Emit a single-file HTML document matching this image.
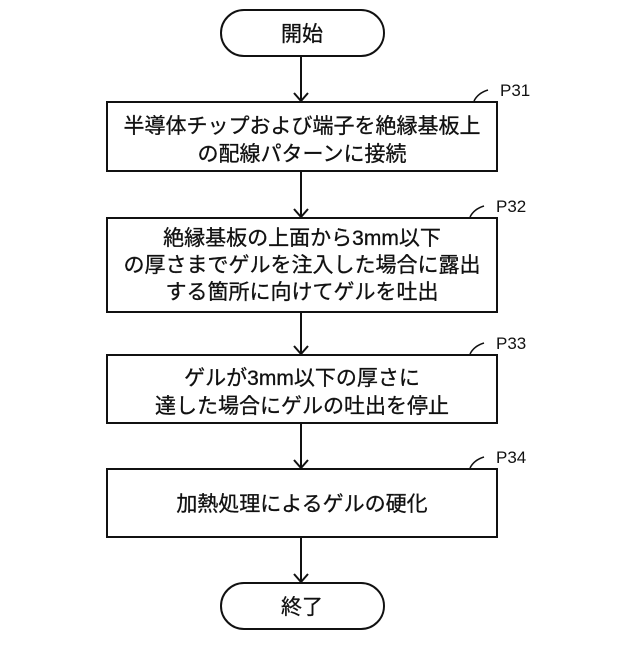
<!DOCTYPE html>
<html><head><meta charset="utf-8"><style>
body{margin:0;background:#fff}
svg text{font-family:"Liberation Sans","Noto Sans CJK JP",sans-serif;fill:#111}
</style></head><body>
<svg width="640" height="640" viewBox="0 0 640 640" xmlns="http://www.w3.org/2000/svg">
<g fill="none" stroke="#111" stroke-width="2">
<rect x="221" y="10" width="163" height="46" rx="23"/>
<rect x="107" y="102" width="390" height="69"/>
<rect x="107" y="218" width="390" height="94"/>
<rect x="107" y="355" width="390" height="68"/>
<rect x="107" y="469" width="390" height="68"/>
<rect x="221" y="583" width="163" height="46" rx="23"/>
<path d="M301 56V101M294 93L301 101L308 93"/>
<path d="M301 171V217M294 209L301 217L308 209"/>
<path d="M301 312V354M294 346L301 354L308 346"/>
<path d="M301 423V468M294 460L301 468L308 460"/>
<path d="M301 537V582M294 574L301 582L308 574"/>
<g stroke-width="1.5">
<path d="M474 101Q478 93 488 90"/>
<path d="M470 217Q474 209 484 206"/>
<path d="M470 354Q474 346 484 343"/>
<path d="M470 468Q474 460 484 457"/>
</g>
</g>
<g font-size="17">
<text x="500" y="96">P31</text>
<text x="496" y="212">P32</text>
<text x="496" y="349">P33</text>
<text x="496" y="463">P34</text>
</g>
<g font-size="21" text-anchor="middle" stroke="#111" stroke-width="0.3">
<text x="302" y="41">開始</text>
<text x="302" y="133">半導体チップおよび端子を絶縁基板上</text>
<text x="302" y="161">の配線パターンに接続</text>
<text x="302" y="245">絶縁基板の上面から3mm以下</text>
<text x="302" y="272">の厚さまでゲルを注入した場合に露出</text>
<text x="302" y="299">する箇所に向けてゲルを吐出</text>
<text x="302" y="385">ゲルが3mm以下の厚さに</text>
<text x="302" y="413">達した場合にゲルの吐出を停止</text>
<text x="302" y="511">加熱処理によるゲルの硬化</text>
<text x="302" y="614">終了</text>
</g>
</svg>
</body></html>
